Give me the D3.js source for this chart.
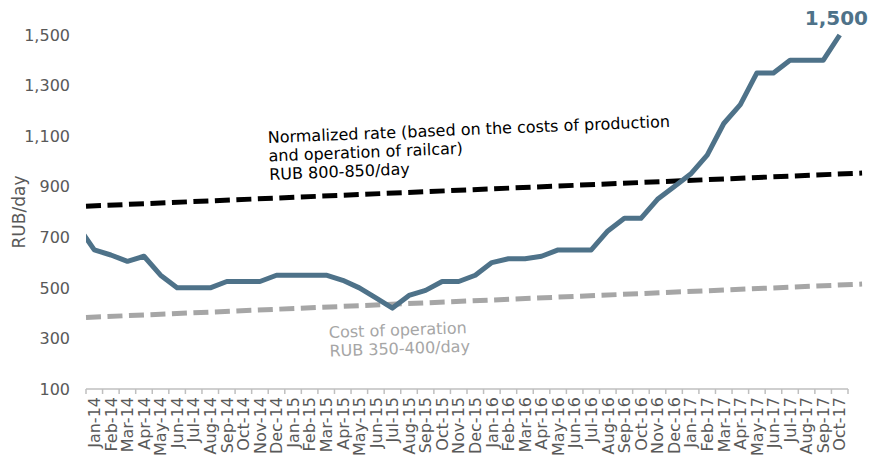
<!DOCTYPE html>
<html>
<head>
<meta charset="utf-8">
<script src="https://cdn.jsdelivr.net/npm/d3@7"></script>
<style>
  body { margin: 0; background: #fff; }
  text { font-family: "DejaVu Sans", Verdana, sans-serif; }
</style>
</head>
<body>
<div id="chart"></div>
<script>
// monthly rate, RUB/day
var months = ["Jan-14","Feb-14","Mar-14","Apr-14","May-14","Jun-14","Jul-14","Aug-14","Sep-14","Oct-14","Nov-14","Dec-14",
  "Jan-15","Feb-15","Mar-15","Apr-15","May-15","Jun-15","Jul-15","Aug-15","Sep-15","Oct-15","Nov-15","Dec-15",
  "Jan-16","Feb-16","Mar-16","Apr-16","May-16","Jun-16","Jul-16","Aug-16","Sep-16","Oct-16","Nov-16","Dec-16",
  "Jan-17","Feb-17","Mar-17","Apr-17","May-17","Jun-17","Jul-17","Aug-17","Sep-17","Oct-17"];
var rate = [650,630,605,625,550,500,500,500,525,525,525,550,
  550,550,550,530,500,460,420,470,490,525,525,550,
  600,615,615,625,650,650,650,725,775,775,850,900,
  950,1025,1150,1225,1350,1350,1400,1400,1400,1500];
var ratePrev = 745; // Dec-13, cut at the axis

// trend lines: [start, end] values, positions in months from the left edge
var trendPos = [0, 46.85];
var normalized = [823, 954];
var costOp = [383, 515];

var yTicks = [100,300,500,700,900,1100,1300,1500];

var W = 871, H = 457;
var margin = {top: 35, right: 23, bottom: 68, left: 86};
var width = W - margin.left - margin.right,
    height = H - margin.top - margin.bottom;

var svg = d3.select("#chart").append("svg")
  .attr("width", W).attr("height", H)
  .append("g")
  .attr("transform", "translate(" + margin.left + "," + margin.top + ")");

var x = d3.scaleLinear().domain([0, months.length]).range([0, 762]);
var y = d3.scaleLinear().domain([100, 1500]).range([height, 0]);

// y labels
svg.selectAll(".ylab")
  .data(yTicks)
  .join("text")
  .attr("x", -16)
  .attr("y", function(d){ return y(d); })
  .attr("dy", "0.36em")
  .attr("text-anchor", "end")
  .style("font-size", "16px")
  .style("fill", "#595959")
  .text(d3.format(","));

svg.append("text")
  .attr("transform", "translate(-67," + (y(800)) + ") rotate(-90)")
  .attr("text-anchor", "middle")
  .attr("dy", "0.35em")
  .style("font-size", "17px")
  .style("fill", "#595959")
  .text("RUB/day");

// x axis
svg.append("line")
  .attr("x1", 0).attr("x2", x(months.length))
  .attr("y1", height).attr("y2", height)
  .style("stroke", "#bfbfbf").style("stroke-width", 1.5);
svg.selectAll(".xtick")
  .data(d3.range(months.length + 1))
  .join("line")
  .attr("x1", function(d){ return x(d); })
  .attr("x2", function(d){ return x(d); })
  .attr("y1", height).attr("y2", height + 5)
  .style("stroke", "#bfbfbf").style("stroke-width", 1.5);

svg.selectAll(".xlab")
  .data(months)
  .join("text")
  .attr("transform", function(d, i){ return "translate(" + x(i + 0.5) + "," + (height + 8) + ") rotate(-90)"; })
  .attr("text-anchor", "end")
  .attr("dy", "0.36em")
  .style("font-size", "16px")
  .style("fill", "#595959")
  .text(function(d){ return d; });

// trend lines
var trendLine = d3.line()
  .x(function(d){ return x(d[0]); })
  .y(function(d){ return y(d[1]); });

svg.append("path")
  .attr("d", trendLine(d3.zip(trendPos, costOp)))
  .style("fill", "none")
  .style("stroke", "#a6a6a6")
  .style("stroke-width", 5)
  .style("stroke-dasharray", "15,6.5");

svg.append("path")
  .attr("d", trendLine(d3.zip(trendPos, normalized)))
  .style("fill", "none")
  .style("stroke", "#000")
  .style("stroke-width", 5)
  .style("stroke-dasharray", "15,6.5");

// rate line, clipped at the left edge
svg.append("defs").append("clipPath")
  .attr("id", "clip")
  .append("rect")
  .attr("x", 0).attr("y", -20)
  .attr("width", x(months.length) + 10).attr("height", height + 20);

var pts = [[-0.5, ratePrev]].concat(rate.map(function(v, i){ return [i + 0.5, v]; }));
svg.append("path")
  .attr("clip-path", "url(#clip)")
  .attr("d", d3.line()
    .x(function(d){ return x(d[0]); })
    .y(function(d){ return y(d[1]); })(pts))
  .style("fill", "none")
  .style("stroke", "#4e7289")
  .style("stroke-width", 5)
  .style("stroke-linejoin", "round");

// last value label
svg.append("text")
  .attr("x", 782)
  .attr("y", -10)
  .attr("text-anchor", "end")
  .style("font-size", "20px")
  .style("font-weight", "bold")
  .style("fill", "#4e7289")
  .text(d3.format(",")(rate[rate.length - 1]));

// annotations
var note1 = svg.append("text")
  .attr("transform", "translate(182,108) rotate(-2.3)")
  .style("font-size", "16px")
  .style("fill", "#000");
["Normalized rate (based on the costs of production", "and operation of railcar)", "RUB 800-850/day"]
  .forEach(function(t, i){
    note1.append("tspan").attr("x", 0).attr("y", i * 18.5).text(t);
  });

var note2 = svg.append("text")
  .attr("transform", "translate(243,303) rotate(-2)")
  .style("font-size", "16px")
  .style("fill", "#a6a6a6");
["Cost of operation", "RUB 350-400/day"]
  .forEach(function(t, i){
    note2.append("tspan").attr("x", 0).attr("y", i * 18.5).text(t);
  });
</script>
</body>
</html>
